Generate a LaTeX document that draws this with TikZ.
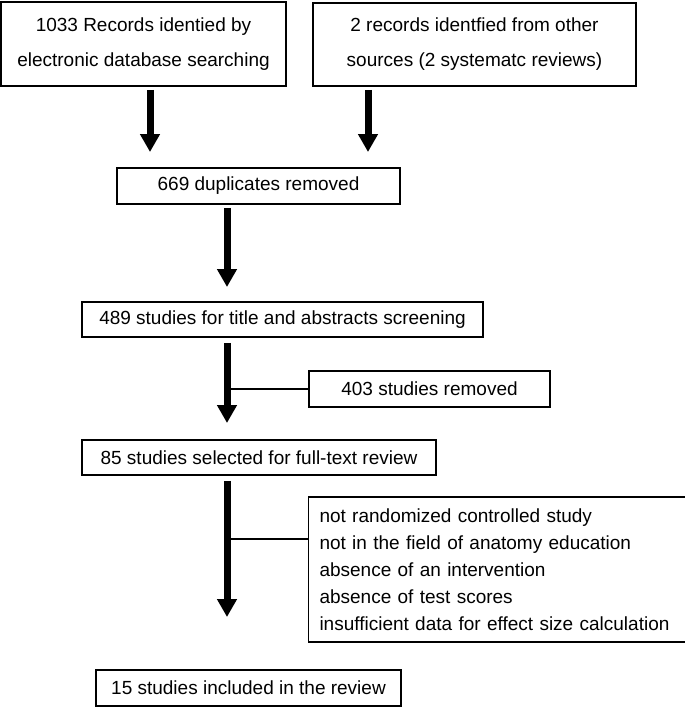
\documentclass[tikz,border=0pt]{standalone}
\usepackage{fontspec}
\setmainfont{Liberation Sans}
\usetikzlibrary{arrows.meta}
\tikzset{
  box/.style={
    draw=black,
    line width=0.75pt,
    inner sep=0pt,
    align=center,
    font=\fontsize{9.5}{17.5}\selectfont
  },
  box-list/.style={
    box,
    align=left,
    inner xsep=5.5pt,
    text width=177.5pt,
    font=\fontsize{9.5}{13.5}\selectfont
  },
  flow-arrow/.style={line width=3.5pt, -{Triangle[width=9.5pt,length=9pt]}, shorten <=1.5pt},
  link/.style={line width=0.6pt}
}

\begin{document}
\begin{tikzpicture}[x=0.5pt, y=-0.5pt]
  \useasboundingbox (0,0) rectangle (685,708);

  % Boxes
  \node[box, minimum width=142.5pt, minimum height=42pt] (records) at (143.5,44)
    {1033 Records identied by\\electronic database searching};
  \node[box, minimum width=161.5pt, minimum height=41.5pt] (other) at (474.5,44.5)
    {2 records identfied from other\\sources (2 systematc reviews)};
  \node[box, minimum width=141.5pt, minimum height=18pt] (dups) at (258.5,186)
    {669 duplicates removed};
  \node[box, minimum width=200.5pt, minimum height=17.5pt] (screen) at (282.5,319.5)
    {489 studies for title and abstracts screening};
  \node[box, minimum width=120.5pt, minimum height=18pt] (removed) at (429.5,389)
    {403 studies removed};
  \node[box, minimum width=177pt, minimum height=17.5pt] (fulltext) at (259,457.5)
    {85 studies selected for full-text review};
  \node[box-list, minimum height=72.5pt] (excluded) at (497,569.5)
    {not randomized controlled study\\
     not in the field of anatomy education\\
     absence of an intervention\\
     absence of test scores\\
     insufficient data for effect size calculation};
  \node[box, minimum width=152.5pt, minimum height=18pt] (included) at (248.5,688)
    {15 studies included in the review};

  % Arrow ends
  \coordinate (records-end) at (150,152);
  \coordinate (other-end) at (368,152);
  \coordinate (dups-end) at (227,287);
  \coordinate (screen-end) at (227,423);
  \coordinate (fulltext-end) at (227,617);
  \coordinate (excluded-branch) at (227,539);

  % Arrows
  \draw[flow-arrow] (records.south -| records-end) -- (records-end);
  \draw[flow-arrow] (other.south -| other-end) -- (other-end);
  \draw[flow-arrow] (dups.south -| dups-end) -- (dups-end);
  \draw[flow-arrow, shorten <=2.5pt] (screen.south -| screen-end) -- (screen-end);
  \draw[flow-arrow, shorten <=2.5pt] (fulltext.south -| fulltext-end) -- (fulltext-end);

  % Side links
  \draw[link] (removed.west -| screen-end) -- (removed.west);
  \draw[link] (excluded-branch) -- (excluded.west |- excluded-branch);
\end{tikzpicture}
\end{document}
